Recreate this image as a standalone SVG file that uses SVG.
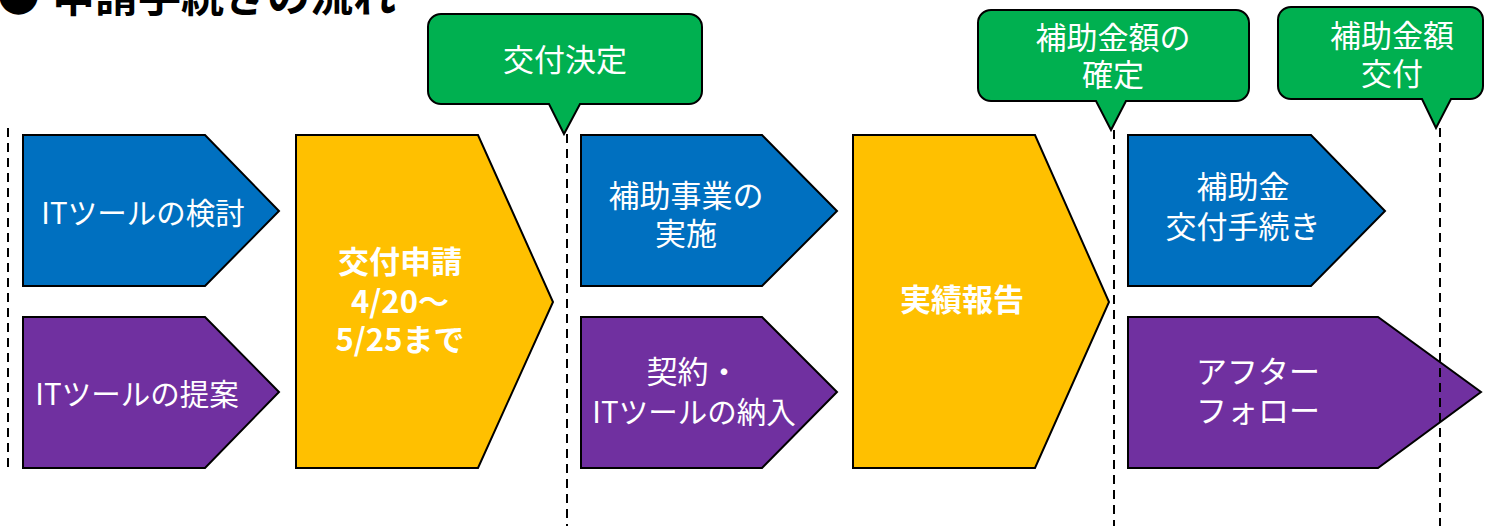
<svg xmlns="http://www.w3.org/2000/svg" width="1491" height="526" viewBox="0 0 1491 526">
<style>
  .blue{fill:#0070C0;stroke:#000;stroke-width:2;stroke-linejoin:miter}
  .purple{fill:#7030A0;stroke:#000;stroke-width:2}
  .yellow{fill:#FFC000;stroke:#000;stroke-width:2}
  .green{fill:#00B050;stroke:#000;stroke-width:2}
  .dash{stroke:#000;stroke-width:2;stroke-dasharray:9 6;fill:none}
  text{font-family:"Noto Sans CJK JP","Noto Sans",sans-serif;fill:#fff;font-size:31px}
  .it{font-size:29.5px}
  .c{text-anchor:middle}
  .b{font-weight:700;font-size:31px}
  .title{fill:#000;font-weight:700;font-size:43px}
</style>
<rect width="1491" height="526" fill="#fff"/>
<text class="title" x="-3" y="12">●<tspan x="52">申請手続きの流れ</tspan></text>

<g id="step-it-review"><polygon class="blue" points="23,135 205,135 279,211 205,286 23,286"/><text class="c it" x="143" y="224">ITツールの検討</text></g>
<g id="step-it-proposal"><polygon class="purple" points="23,317 205,317 279,392 205,468 23,468"/><text class="c it" x="137" y="405">ITツールの提案</text></g>
<g id="step-application"><polygon class="yellow" points="296,135 478,135 553,302 478,468 296,468"/><text class="c b" x="400" y="273">交付申請</text><text class="c b" x="400" y="313">4/20～</text><text class="c b" x="400" y="351">5/25まで</text></g>
<g id="step-implementation"><polygon class="blue" points="581,135 762,135 837,211 762,286 581,286"/><text class="c" x="686" y="207">補助事業の</text><text class="c" x="686" y="245">実施</text></g>
<g id="step-contract"><polygon class="purple" points="581,317 762,317 837,392 762,468 581,468"/><text class="c" x="693" y="383">契約・</text><text class="c it" x="694" y="423">ITツールの納入</text></g>
<g id="step-report"><polygon class="yellow" points="853,135 1035,135 1109,302 1035,468 853,468"/><text class="c b" x="962" y="311">実績報告</text></g>
<g id="step-grant-procedure"><polygon class="blue" points="1128,135 1311,135 1385,211 1311,286 1128,286"/><text class="c" x="1243" y="198">補助金</text><text class="c" x="1243" y="238">交付手続き</text></g>
<g id="step-follow"><polygon class="purple" points="1128,317 1378,317 1481,392 1378,468 1128,468"/><text x="1196" y="383">アフター</text><text x="1196" y="422">フォロー</text></g>

<g id="connectors">
  <line class="dash" x1="8" y1="128" x2="8" y2="468"/>
  <line class="dash" x1="567" y1="134" x2="567" y2="526"/>
  <line class="dash" x1="1114" y1="130" x2="1114" y2="526"/>
  <line class="dash" x1="1440" y1="128" x2="1440" y2="526"/>
</g>

<g id="callout-decision"><path class="green" d="M441,14 H689 A13,13 0 0 1 702,27 V91 A13,13 0 0 1 689,104 H580 L564,134 L549,104 H441 A13,13 0 0 1 428,91 V27 A13,13 0 0 1 441,14 Z"/><text class="c" x="565" y="71">交付決定</text></g>
<g id="callout-confirm"><path class="green" d="M991,10 H1236 A13,13 0 0 1 1249,23 V88 A13,13 0 0 1 1236,101 H1126 L1111,130 L1096,101 H991 A13,13 0 0 1 978,88 V23 A13,13 0 0 1 991,10 Z"/><text class="c" x="1113" y="49">補助金額の</text><text class="c" x="1113" y="86">確定</text></g>
<g id="callout-payment"><path class="green" d="M1291,7 H1470 A13,13 0 0 1 1483,20 V86 A13,13 0 0 1 1470,99 H1451 L1436,128 L1422,99 H1291 A13,13 0 0 1 1278,86 V20 A13,13 0 0 1 1291,7 Z"/><text class="c" x="1392" y="47">補助金額</text><text class="c" x="1392" y="85">交付</text></g>
</svg>
